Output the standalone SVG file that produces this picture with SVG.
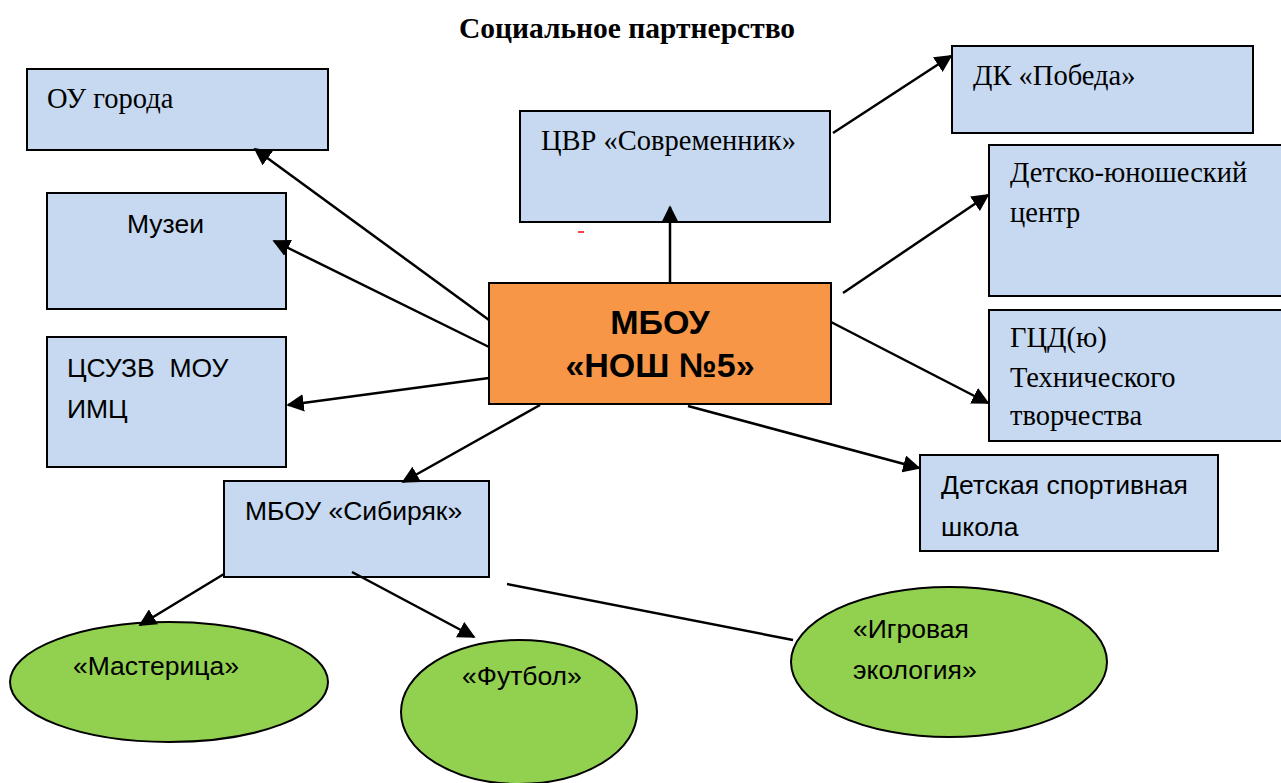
<svg xmlns="http://www.w3.org/2000/svg" width="1281" height="783" viewBox="0 0 1281 783">
<defs>
<marker id="ah" viewBox="0 0 10 10" refX="9" refY="5" markerWidth="7" markerHeight="7" markerUnits="strokeWidth" orient="auto">
<path d="M0,0 L10,5 L0,10 z" fill="#000"/>
</marker>
<style>
.box{fill:#c6d9f1;stroke:#000;stroke-width:2}
.main{fill:#f79646;stroke:#000;stroke-width:2}
.ell{fill:#92d050;stroke:#000;stroke-width:2}
.serif{font-family:"Liberation Serif","Times New Roman",serif;font-size:28.5px;fill:#000}
.sans{font-family:"Liberation Sans",Arial,sans-serif;font-size:26.5px;fill:#000}
.title{font-family:"Liberation Serif","Times New Roman",serif;font-size:29.5px;font-weight:bold;fill:#000}
.big{font-family:"Liberation Sans",Arial,sans-serif;font-size:34px;font-weight:bold;fill:#000}
.con line{stroke:#000;stroke-width:2.5}
</style>
</defs>
<rect width="1281" height="783" fill="#fff"/>
<text class="title" x="627" y="38" text-anchor="middle">Социальное партнерство</text>

<g id="n-ou"><rect class="box" x="27" y="69" width="301" height="81"/><text class="serif" x="47" y="108">ОУ города</text></g>
<g id="n-muzei"><rect class="box" x="47" y="193" width="239" height="116"/><text class="sans" x="127" y="233">Музеи</text></g>
<g id="n-csuzv"><rect class="box" x="47" y="337" width="239" height="130"/><text class="sans" x="67" y="377" xml:space="preserve">ЦСУЗВ  МОУ</text><text class="sans" x="67" y="418">ИМЦ</text></g>
<g id="n-cvr"><rect class="box" x="520" y="111" width="310" height="111"/><text class="serif" x="541" y="150">ЦВР «Современник»</text></g>
<g id="n-dash"><line x1="578" y1="232" x2="584" y2="232" stroke="#f00" stroke-width="1.5"/></g>
<g id="n-main"><rect class="main" x="489" y="283" width="342" height="121"/><text class="big" x="660" y="334" text-anchor="middle">МБОУ</text><text class="big" x="660" y="377" text-anchor="middle">«НОШ №5»</text></g>
<g id="n-dk"><rect class="box" x="952" y="46" width="301" height="87"/><text class="serif" x="973" y="85">ДК «Победа»</text></g>
<g id="n-dyc"><rect class="box" x="989" y="145" width="300" height="151"/><text class="serif" x="1010" y="182">Детско-юношеский</text><text class="serif" x="1010" y="222">центр</text></g>
<g id="n-gcd"><rect class="box" x="989" y="310" width="300" height="131"/><text class="serif" x="1010" y="347">ГЦД(ю)</text><text class="serif" x="1010" y="387">Технического</text><text class="serif" x="1010" y="425">творчества</text></g>
<g id="n-dss"><rect class="box" x="920" y="455" width="298" height="96"/><text class="sans" x="941" y="494">Детская спортивная</text><text class="sans" x="941" y="536">школа</text></g>
<g id="n-sib"><rect class="box" x="224" y="481" width="265" height="96"/><text class="sans" x="245" y="520">МБОУ «Сибиряк»</text></g>
<g id="n-mast"><ellipse class="ell" cx="169" cy="682" rx="159" ry="60"/><text class="sans" x="73" y="675">«Мастерица»</text></g>
<g id="n-fut"><ellipse class="ell" cx="519" cy="712" rx="118" ry="72"/><text class="sans" x="462" y="685">«Футбол»</text></g>
<g id="n-igr"><ellipse class="ell" cx="949" cy="662" rx="158" ry="75"/><text class="sans" x="853" y="638">«Игровая</text><text class="sans" x="853" y="679">экология»</text></g>

<g id="connectors" class="con">
<line x1="489" y1="320" x2="255" y2="149" marker-end="url(#ah)"/>
<line x1="489" y1="347" x2="274" y2="241" marker-end="url(#ah)"/>
<line x1="489" y1="378" x2="288" y2="405" marker-end="url(#ah)"/>
<line x1="670" y1="283" x2="670" y2="207" marker-end="url(#ah)"/>
<line x1="833" y1="133" x2="951" y2="56" marker-end="url(#ah)"/>
<line x1="843" y1="293" x2="988" y2="195" marker-end="url(#ah)"/>
<line x1="831" y1="322" x2="988" y2="403" marker-end="url(#ah)"/>
<line x1="688" y1="406" x2="919" y2="468" marker-end="url(#ah)"/>
<line x1="540" y1="405" x2="403" y2="482" marker-end="url(#ah)"/>
<line x1="224" y1="574" x2="140" y2="625" marker-end="url(#ah)"/>
<line x1="352" y1="572" x2="474" y2="637" marker-end="url(#ah)"/>
<line x1="507" y1="584" x2="793" y2="640"/>
</g>
</svg>
